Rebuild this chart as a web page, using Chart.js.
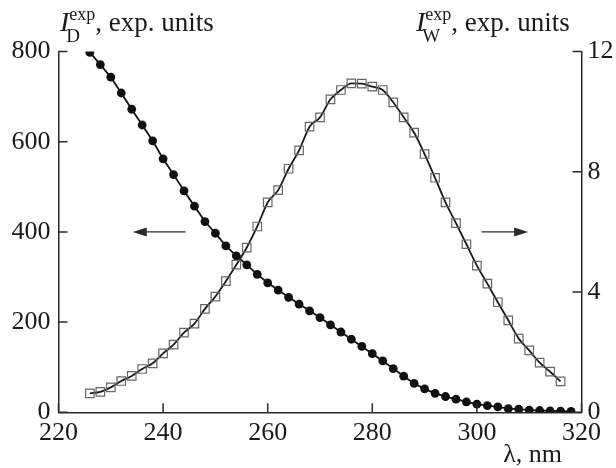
<!DOCTYPE html>
<html>
<head>
<meta charset="utf-8">
<script src="https://cdn.jsdelivr.net/npm/chart.js@4.4.1/dist/chart.umd.min.js"></script>
<style>
  body { margin: 0; background: #fff; }
  #caja { width: 616px; height: 468px; position: relative; }
</style>
</head>
<body>
<div id="caja"><canvas id="grafico"></canvas></div>
<script>
// longitudes de onda (nm)
var lambdaD = [226, 228, 230, 232, 234, 236, 238, 240, 242, 244, 246, 248, 250, 252, 254, 256, 258, 260, 262, 264,
               266, 268, 270, 272, 274, 276, 278, 280, 282, 284, 286, 288, 290, 292, 294, 296, 298, 300, 302, 304,
               306, 308, 310, 312, 314, 316, 318];
var intensD = [798, 771, 743, 708, 672, 637, 602, 562, 527, 491, 457, 423, 397, 369, 347, 327, 306, 287, 271, 255,
               240, 225, 210, 194, 178, 162, 146, 130, 114, 97, 80, 64, 52, 42, 35, 29, 23, 18, 15, 12,
               8, 7, 5, 4, 3, 2.5, 2];

var lambdaW = [226, 228, 230, 232, 234, 236, 238, 240, 242, 244, 246, 248, 250, 252, 254, 256, 258, 260, 262, 264,
               266, 268, 270, 272, 274, 276, 278, 280, 282, 284, 286, 288, 290, 292, 294, 296, 298, 300, 302, 304,
               306, 308, 310, 312, 314, 316];
var intensW = [0.63, 0.68, 0.83, 1.04, 1.21, 1.44, 1.63, 1.96, 2.25, 2.65, 2.95, 3.44, 3.85, 4.36, 4.91, 5.48, 6.18, 6.98, 7.39, 8.10,
               8.71, 9.50, 9.81, 10.41, 10.72, 10.94, 10.93, 10.83, 10.72, 10.31, 9.81, 9.30, 8.59, 7.80, 6.98, 6.29, 5.59, 4.88, 4.28, 3.66,
               3.06, 2.45, 2.06, 1.65, 1.35, 1.03];

var ticksX = [220, 240, 260, 280, 300, 320];
var ticksY = [0, 200, 400, 600, 800];
var ticksY2 = [0, 4, 8, 12];

var fuente = "Liberation Serif";
var colorEje = "#2a2a2a";

function puntos(xs, ys) {
    var out = [];
    for (var i = 0; i < xs.length; i++) {
        out.push({x: xs[i], y: ys[i]});
    }
    return out;
}

function flecha(ctx, x1, x2, y) {
    var dir = x2 > x1 ? 1 : -1;
    ctx.beginPath();
    ctx.moveTo(x1, y);
    ctx.lineTo(x2 - dir * 10, y);
    ctx.stroke();
    ctx.beginPath();
    ctx.moveTo(x2, y);
    ctx.lineTo(x2 - dir * 14, y - 4.5);
    ctx.lineTo(x2 - dir * 14, y + 4.5);
    ctx.closePath();
    ctx.fill();
}

// texto tipo I_D^exp, exp. units
function tituloEje(ctx, x, y, sub, resto) {
    ctx.textBaseline = "alphabetic";
    ctx.textAlign = "left";
    ctx.font = "italic 28px '" + fuente + "'";
    ctx.fillText("I", x, y);
    var w = ctx.measureText("I").width;
    ctx.font = "19px '" + fuente + "'";
    ctx.fillText(sub, x + w - 3, y + 11);
    var ws = ctx.measureText(sub).width;
    ctx.font = "18px '" + fuente + "'";
    ctx.fillText("exp", x + w, y - 11);
    var we = ctx.measureText("exp").width;
    ctx.font = "27px '" + fuente + "'";
    ctx.fillText(resto, x + w + Math.max(ws - 3, we), y);
}

var extras = {
    id: "extras",
    afterDraw: function(chart) {
        var ctx = chart.ctx;
        var sx = chart.scales.x, sy = chart.scales.y, sy2 = chart.scales.y2;
        var area = chart.chartArea;
        ctx.save();
        ctx.strokeStyle = colorEje;
        ctx.fillStyle = colorEje;
        ctx.lineWidth = 1.5;
        // marcas hacia adentro
        ctx.beginPath();
        ticksX.forEach(function(v) {
            var px = sx.getPixelForValue(v);
            ctx.moveTo(px, area.bottom);
            ctx.lineTo(px, area.bottom - 9);
        });
        ticksY.forEach(function(v) {
            var py = sy.getPixelForValue(v);
            ctx.moveTo(area.left, py);
            ctx.lineTo(area.left + 9, py);
        });
        ticksY2.forEach(function(v) {
            var py = sy2.getPixelForValue(v);
            ctx.moveTo(area.right, py);
            ctx.lineTo(area.right - 9, py);
        });
        ctx.stroke();

        // flechas
        ctx.lineWidth = 1.3;
        flecha(ctx, sx.getPixelForValue(244.3), sx.getPixelForValue(234.2), sy.getPixelForValue(400));
        flecha(ctx, sx.getPixelForValue(300.9), sx.getPixelForValue(309.8), sy2.getPixelForValue(6));

        // titulos
        ctx.fillStyle = "#1a1a1a";
        tituloEje(ctx, 60, 31, "D", ", exp. units");
        tituloEje(ctx, 416, 31, "W", ", exp. units");
        ctx.font = "26px '" + fuente + "'";
        ctx.textAlign = "right";
        ctx.fillText("\u03bb, nm", 562, 462);
        ctx.restore();
    }
};

var ctx = document.getElementById("grafico");

new Chart(ctx, {
    type: "line",
    data: {
        datasets: [{
            data: puntos(lambdaW, intensW),
            yAxisID: "y2",
            borderColor: "#1a1a1a",
            borderWidth: 1.8,
            tension: 0.4,
            cubicInterpolationMode: "monotone",
            pointStyle: "rect",
            pointRadius: 6,
            pointBorderColor: "#666",
            pointBorderWidth: 1.2,
            pointBackgroundColor: "rgba(255,255,255,0)",
            fill: false
        }, {
            data: puntos(lambdaD, intensD),
            yAxisID: "y",
            borderColor: "#111",
            borderWidth: 1.8,
            tension: 0,
            pointStyle: "circle",
            pointRadius: 4.4,
            pointBorderWidth: 0,
            pointBackgroundColor: "#111",
            fill: false
        }]
    },
    options: {
        responsive: true,
        maintainAspectRatio: false,
        animation: false,
        layout: { padding: { top: 51.5, left: 0, right: 0, bottom: 0 } },
        plugins: {
            legend: { display: false },
            tooltip: { enabled: false }
        },
        scales: {
            x: {
                type: "linear",
                min: 220, max: 320,
                afterFit: function(s) { s.height = 55.7; },
                afterBuildTicks: function(s) { s.ticks = ticksX.map(function(v) { return {value: v}; }); },
                grid: { display: false, drawTicks: false },
                border: { display: true, color: colorEje, width: 1.5 },
                ticks: { color: "#1a1a1a", padding: 5, maxRotation: 0, font: { family: fuente, size: 26 } }
            },
            y: {
                position: "left",
                min: 0, max: 800,
                afterFit: function(s) { s.width = 58.5; },
                afterBuildTicks: function(s) { s.ticks = ticksY.map(function(v) { return {value: v}; }); },
                grid: { display: false, drawTicks: false },
                border: { display: true, color: colorEje, width: 1.5 },
                ticks: { color: "#1a1a1a", padding: 8, font: { family: fuente, size: 26 } }
            },
            y2: {
                position: "right",
                min: 0, max: 12,
                afterFit: function(s) { s.width = 34.5; },
                afterBuildTicks: function(s) { s.ticks = ticksY2.map(function(v) { return {value: v}; }); },
                grid: { display: false, drawTicks: false },
                border: { display: true, color: colorEje, width: 1.5 },
                ticks: { color: "#1a1a1a", padding: 6, font: { family: fuente, size: 26 } }
            }
        }
    },
    plugins: [extras]
});
</script>
</body>
</html>
